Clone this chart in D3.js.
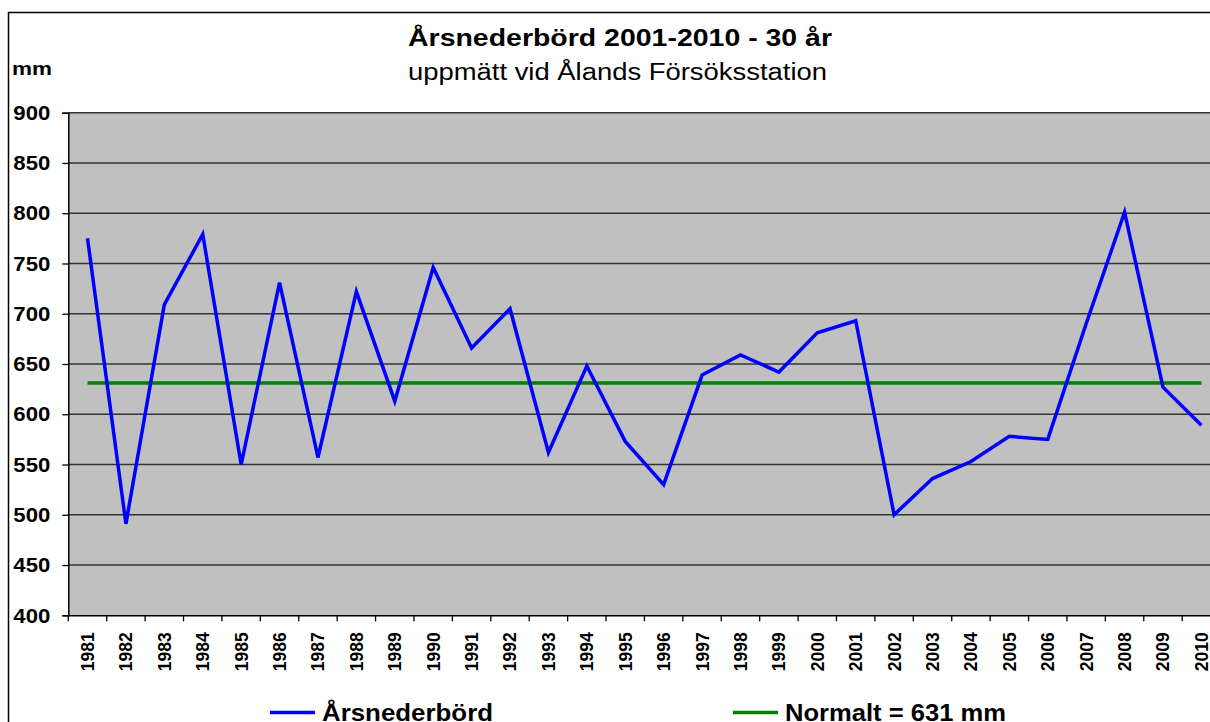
<!DOCTYPE html>
<html>
<head>
<meta charset="utf-8">
<script src="https://cdn.jsdelivr.net/npm/d3@7"></script>
<style>
  body { margin: 0; background: #fff; }
  text { font-family: "Liberation Sans", Arial, sans-serif; }
</style>
</head>
<body>
<svg id="chart" width="1210" height="722"></svg>
<script>
//==========================data==========================
var years = ["1981", "1982", "1983", "1984", "1985", "1986", "1987", "1988", "1989", "1990",
  "1991", "1992", "1993", "1994", "1995", "1996", "1997", "1998", "1999", "2000",
  "2001", "2002", "2003", "2004", "2005", "2006", "2007", "2008", "2009", "2010"];
var precip = [775, 491, 709, 779, 550, 731, 557, 722, 613, 746,
  666, 705, 562, 648, 573, 530, 639, 659, 642, 681,
  693, 500, 536, 553, 578, 575, 690, 801, 627, 589];
var normal = 631;
var yTicks = [400, 450, 500, 550, 600, 650, 700, 750, 800, 850, 900];
var seriesNames = ["Årsnederbörd", "Normalt = 631 mm"];

//==========================layout==========================
var plotLeft = 68.3, plotRight = 1220.6, plotTop = 112.7, plotBottom = 615.3;

var svg = d3.select("#chart");

// outer chart frame
svg.append("rect")
  .attr("x", 8.5).attr("y", 12.5)
  .attr("width", 1300).attr("height", 800)
  .style("fill", "#fff").style("stroke", "#000").style("stroke-width", 1.5);

var x = d3.scaleBand().domain(years).range([plotLeft, plotRight]);
var y = d3.scaleLinear().domain([400, 900]).range([plotBottom, plotTop]);

// plot background
svg.append("rect")
  .attr("x", plotLeft).attr("y", plotTop)
  .attr("width", plotRight - plotLeft).attr("height", plotBottom - plotTop)
  .style("fill", "#c0c0c0");

// gridlines
svg.selectAll("line.grid")
  .data(yTicks.slice(1))
  .enter()
  .append("line")
  .attr("class", "grid")
  .attr("x1", plotLeft).attr("x2", plotRight)
  .attr("y1", function(d) { return y(d); })
  .attr("y2", function(d) { return y(d); })
  .style("stroke", "#333")
  .style("stroke-width", 1.4);

//==========================axes==========================
var yAxis = d3.axisLeft(y).tickValues(yTicks).tickSize(6).tickPadding(12);
var gy = svg.append("g").attr("transform", "translate(" + plotLeft + ",0)").call(yAxis);
gy.select(".domain").style("stroke", "#000").style("stroke-width", 1.5);
gy.selectAll(".tick line").style("stroke", "#000").style("stroke-width", 1.3);
gy.selectAll(".tick text")
  .style("font-size", "21px").style("font-weight", "bold")
  .style("font-family", "'Liberation Sans', Arial, sans-serif")
  .attr("textLength", 37).attr("lengthAdjust", "spacingAndGlyphs")
  .attr("fill", "#000");

var xAxis = d3.axisBottom(x).tickSize(0).tickPadding(0);
var gx = svg.append("g").attr("transform", "translate(0," + plotBottom + ")").call(xAxis);
gx.select(".domain").style("stroke", "#000").style("stroke-width", 1.5);
gx.selectAll(".tick text")
  .attr("transform", "rotate(-90)")
  .attr("x", -17).attr("y", 0).attr("dy", "0.36em")
  .style("text-anchor", "end")
  .style("font-size", "18px").style("font-weight", "bold")
  .style("font-family", "'Liberation Sans', Arial, sans-serif")
  .attr("textLength", 39).attr("lengthAdjust", "spacingAndGlyphs")
  .attr("fill", "#000");

// category boundary ticks
var bounds = years.map(function(d) { return x(d); }).concat([plotRight]);
svg.selectAll("line.xtick")
  .data(bounds)
  .enter()
  .append("line")
  .attr("class", "xtick")
  .attr("x1", function(d) { return d; }).attr("x2", function(d) { return d; })
  .attr("y1", plotBottom).attr("y2", plotBottom + 6)
  .style("stroke", "#000").style("stroke-width", 1.3);

//==========================series==========================
var cx = function(d) { return x(d) + x.bandwidth() / 2; };

var line = d3.line()
  .x(function(d, i) { return cx(years[i]); })
  .y(function(d) { return y(d); });

svg.append("path")
  .datum(years.map(function() { return normal; }))
  .attr("d", line)
  .style("fill", "none").style("stroke", "#008000").style("stroke-width", 3.5);

svg.append("path")
  .datum(precip)
  .attr("d", line)
  .style("fill", "none").style("stroke", "#0000ff").style("stroke-width", 3.5)
  .style("stroke-linejoin", "miter");

//==========================titles==========================
svg.append("text")
  .attr("x", 408).attr("y", 46)
  .style("font-size", "23px").style("font-weight", "bold")
  .attr("textLength", 424).attr("lengthAdjust", "spacingAndGlyphs")
  .text("Årsnederbörd 2001-2010 - 30 år");

svg.append("text")
  .attr("x", 408).attr("y", 80)
  .style("font-size", "23px")
  .attr("textLength", 419).attr("lengthAdjust", "spacingAndGlyphs")
  .text("uppmätt vid Ålands Försöksstation");

svg.append("text")
  .attr("x", 12).attr("y", 75)
  .style("font-size", "19px").style("font-weight", "bold")
  .attr("textLength", 40).attr("lengthAdjust", "spacingAndGlyphs")
  .text("mm");

//==========================legend==========================
var legend = [
  { name: seriesNames[0], color: "#0000ff", x: 270, w: 171 },
  { name: seriesNames[1], color: "#008000", x: 733, w: 221 }
];
var lg = svg.selectAll("g.legend")
  .data(legend)
  .enter()
  .append("g")
  .attr("class", "legend")
  .attr("transform", function(d) { return "translate(" + d.x + ",712.5)"; });
lg.append("line")
  .attr("x1", 0).attr("x2", 45)
  .style("stroke", function(d) { return d.color; })
  .style("stroke-width", 3.5);
lg.append("text")
  .attr("x", 52).attr("y", 8)
  .style("font-size", "24px").style("font-weight", "bold")
  .attr("textLength", function(d) { return d.w; }).attr("lengthAdjust", "spacingAndGlyphs")
  .text(function(d) { return d.name; });
</script>
</body>
</html>
